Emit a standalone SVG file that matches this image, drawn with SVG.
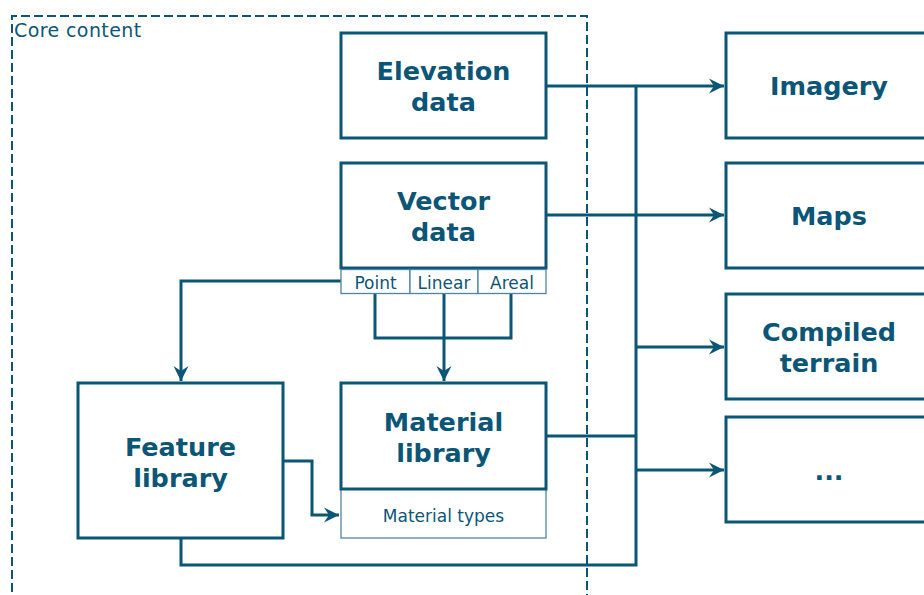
<svg xmlns="http://www.w3.org/2000/svg" width="924" height="595" viewBox="0 0 924 595">
<defs>
<style>
.box{fill:#fff;stroke:#0b5676;stroke-width:3}
.cell{fill:#fff;stroke:#4f84a0;stroke-width:1.3}
.lbl{font-family:"DejaVu Sans",Verdana,sans-serif;font-weight:bold;font-size:25.5px;fill:#0b5676;text-anchor:middle}
.sm{font-family:"DejaVu Sans",Verdana,sans-serif;font-size:17px;fill:#0b5676;text-anchor:middle}
.con{fill:none;stroke:#0b5676;stroke-width:3}
</style>
<marker id="arr" viewBox="0 0 16 16" refX="15" refY="8" markerWidth="16" markerHeight="16" markerUnits="userSpaceOnUse" orient="auto">
<path d="M0,0.5 L15,8 L0,15.5 L5,8 z" fill="#0b5676"/>
</marker>
</defs>
<rect width="924" height="595" fill="#fff"/>

<g id="core-content">
<path d="M12,605 L12,16 L587,16 L587,605" fill="none" stroke="#0b5676" stroke-width="2" stroke-dasharray="9,4"/>
<text x="14" y="37" font-family="'DejaVu Sans',Verdana,sans-serif" font-size="19" letter-spacing="0.4" fill="#0b5676">Core content</text>
</g>

<g id="connectors">
<path class="con" d="M547,86 L724,86" marker-end="url(#arr)"/>
<path class="con" d="M547,215 L724,215" marker-end="url(#arr)"/>
<path class="con" d="M636,86 L636,565 L181,565 L181,539"/>
<path class="con" d="M547,436 L636,436"/>
<path class="con" d="M636,347 L724,347" marker-end="url(#arr)"/>
<path class="con" d="M636,470 L724,470" marker-end="url(#arr)"/>
<path class="con" d="M341,281 L181,281 L181,381" marker-end="url(#arr)"/>
<path class="con" d="M375,293 L375,338 L511,338 L511,293"/>
<path class="con" d="M444,293 L444,381" marker-end="url(#arr)"/>
<path class="con" d="M284,461 L312,461 L312,515 L339,515" marker-end="url(#arr)"/>
</g>

<g id="elevation-data">
<rect class="box" x="341" y="33" width="205" height="105"/>
<text class="lbl" x="443.5" y="80">Elevation</text>
<text class="lbl" x="443.5" y="111">data</text>
</g>

<g id="vector-data">
<rect class="box" x="341" y="163" width="205" height="105"/>
<text class="lbl" x="443.5" y="210">Vector</text>
<text class="lbl" x="443.5" y="241">data</text>
</g>

<g id="vector-point">
<rect class="cell" x="341" y="269.5" width="69" height="24"/>
<text class="sm" x="375.5" y="288.5">Point</text>
</g>
<g id="vector-linear">
<rect class="cell" x="410" y="269.5" width="68" height="24"/>
<text class="sm" x="444" y="288.5">Linear</text>
</g>
<g id="vector-areal">
<rect class="cell" x="478" y="269.5" width="68" height="24"/>
<text class="sm" x="512" y="288.5">Areal</text>
</g>

<g id="feature-library">
<rect class="box" x="78" y="383" width="205" height="155"/>
<text class="lbl" x="180.5" y="456">Feature</text>
<text class="lbl" x="180.5" y="487">library</text>
</g>

<g id="material-library">
<rect class="cell" x="341" y="489" width="205" height="49"/>
<text class="sm" x="443.5" y="522">Material types</text>
<rect class="box" x="341" y="383" width="205" height="106"/>
<text class="lbl" x="443.5" y="431">Material</text>
<text class="lbl" x="443.5" y="462">library</text>
</g>

<g id="imagery">
<rect class="box" x="726" y="33" width="206" height="105"/>
<text class="lbl" x="829" y="95">Imagery</text>
</g>

<g id="maps">
<rect class="box" x="726" y="163" width="206" height="105"/>
<text class="lbl" x="829" y="225">Maps</text>
</g>

<g id="compiled-terrain">
<rect class="box" x="726" y="294" width="206" height="105"/>
<text class="lbl" x="829" y="341">Compiled</text>
<text class="lbl" x="829" y="372">terrain</text>
</g>

<g id="more">
<rect class="box" x="726" y="417" width="206" height="105"/>
<text class="lbl" x="829" y="480">...</text>
</g>
</svg>
